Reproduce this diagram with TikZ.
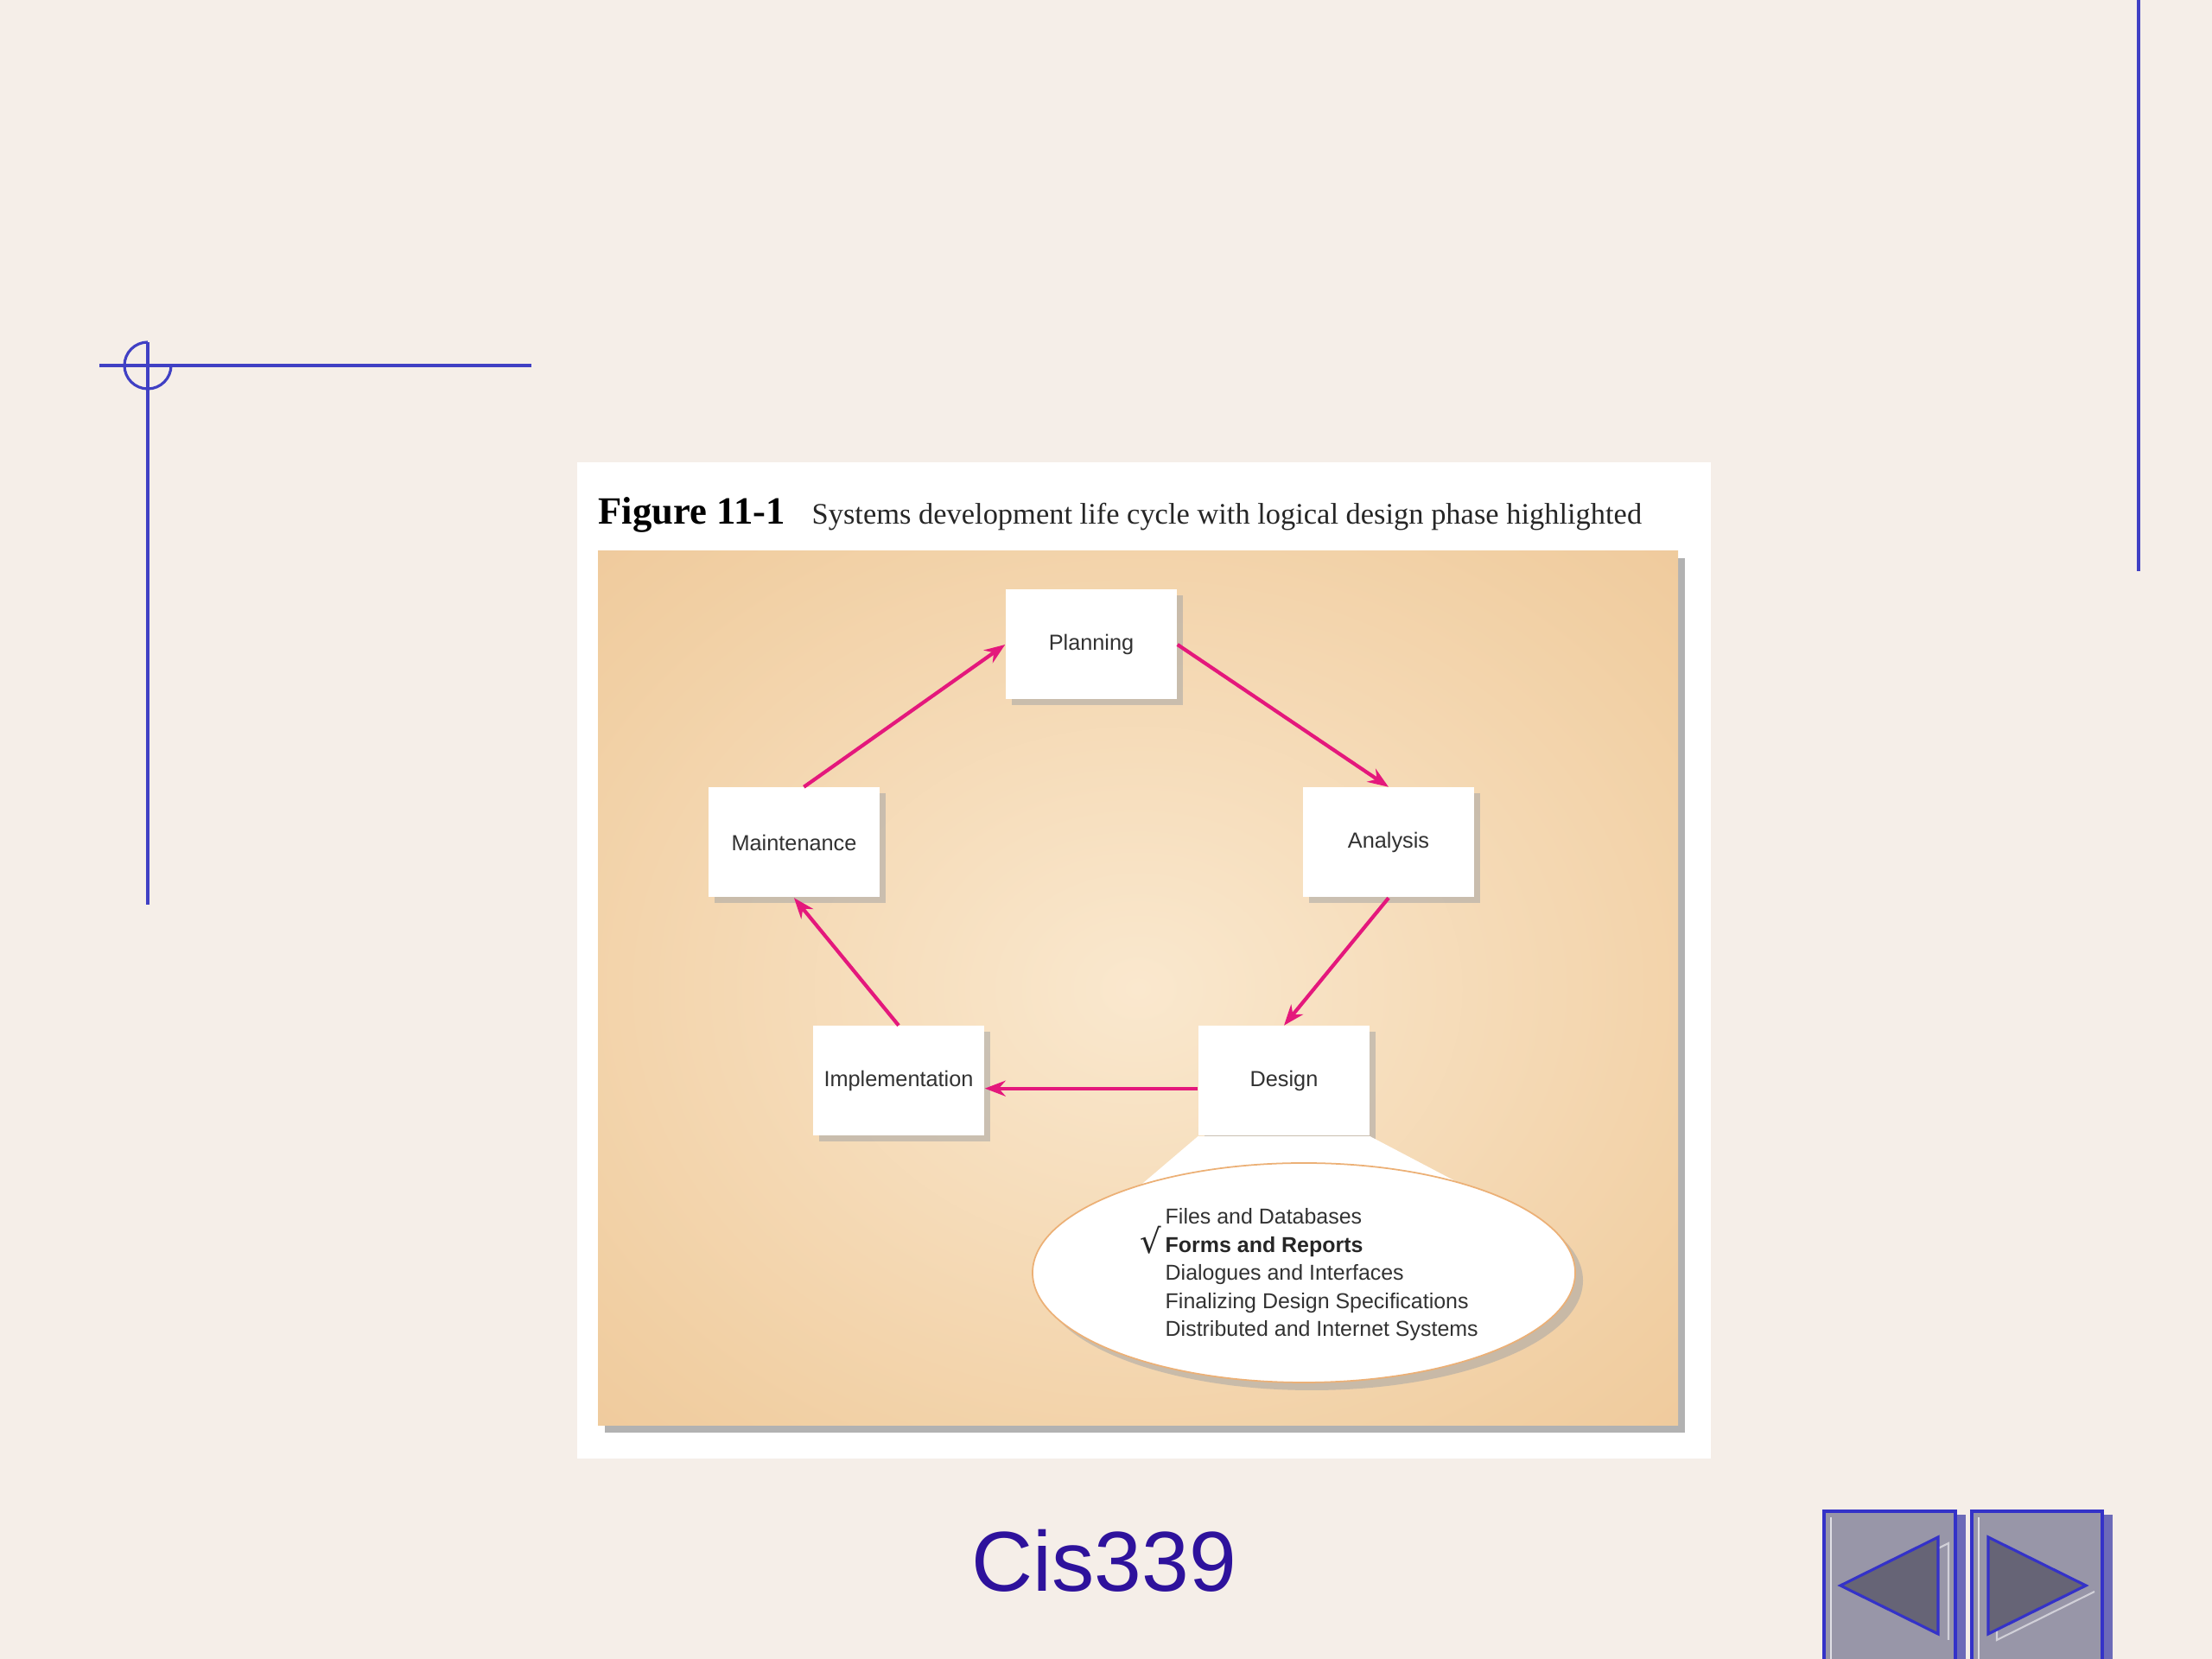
\documentclass[tikz,border=0pt]{standalone}
\usepackage{fontspec}
\setmainfont{Liberation Serif}
\newfontfamily\helv{Liberation Sans}
\newfontfamily\dejavu{DejaVu Sans}
\usepackage{tikz}
\usetikzlibrary{positioning,arrows.meta,shadows,shapes.geometric}

\definecolor{slidebg}{RGB}{245,238,232}
\definecolor{rulerblue}{RGB}{64,64,196}
\definecolor{pinkarrow}{RGB}{228,24,124}
\definecolor{tanin}{RGB}{250,232,206}
\definecolor{tanmid}{RGB}{241,207,163}
\definecolor{tanedge}{RGB}{234,189,139}
\definecolor{tanout}{RGB}{228,177,124}
\definecolor{rimorange}{RGB}{236,176,118}
\definecolor{navfill}{RGB}{152,150,168}
\definecolor{navdark}{RGB}{102,100,118}
\definecolor{navshade}{RGB}{108,106,184}
\definecolor{navblue}{RGB}{52,50,200}
\definecolor{cisblue}{RGB}{46,18,156}
\definecolor{labelgray}{RGB}{50,50,50}
\pgfdeclareradialshading{tanglow}{\pgfpoint{0bp}{0bp}}{color(0bp)=(tanin); color(30bp)=(tanmid); color(52bp)=(tanedge); color(71bp)=(tanout)}

\begin{document}
\begin{tikzpicture}[node distance=2cm, on grid, >={Stealth[length=0.24cm,width=0.18cm]}]
    \tikzstyle{phase}=[fill=white, minimum width=1.98cm, minimum height=1.27cm, inner sep=0pt,
        font=\helv\fontsize{7.2}{8}\selectfont, text=labelgray,
        drop shadow={shadow xshift=0.07cm, shadow yshift=-0.07cm, fill=black!35, opacity=0.55}]
    \tikzstyle{cycle}=[->, pinkarrow, line width=1.2pt]
    \tikzstyle{topic}=[anchor=base west, inner sep=0pt, font=\helv\fontsize{7.1}{8}\selectfont, text=labelgray]
    \tikzstyle{ruler}=[rulerblue, line width=0.9pt]

    \useasboundingbox (0,0) rectangle (25.6,19.2);
    \clip (0,0) rectangle (25.6,19.2);
    \fill[slidebg] (0,0) rectangle (25.6,19.2);

    % slide rulers
    \draw[ruler] (1.15,14.97) -- (6.15,14.97);
    \draw[ruler] (1.71,15.24) -- (1.71,8.73);
    \draw[ruler] (1.71,15.24) arc[start angle=90, end angle=360, radius=0.27];
    \draw[ruler] (24.75,19.2) -- (24.75,12.59);

    % figure panel
    \fill[white] (6.68,13.85) rectangle (19.80,2.32);
    \fill[black!30] (7.00,12.74) rectangle (19.50,2.62);
    \shade[shading=tanglow] (6.92,12.82) rectangle (19.42,2.70);

    \node[anchor=base west, inner sep=0pt, font=\fontsize{12.7}{14}\selectfont\bfseries] (figno) at (6.92,13.13) {Figure 11-1};
    \node[anchor=base west, inner sep=0pt, font=\fontsize{9.8}{11}\selectfont, text=black!85] (figcap) at (9.39,13.13)
        {Systems development life cycle with logical design phase highlighted};

    \node[phase] (plan)  at (12.63,11.74)                      {Planning};
    \node[phase] (anal)  [below right = 2.29cm and 3.44cm of plan] {Analysis};
    \node[phase] (desg)  [below left = 2.76cm and 1.21cm of anal]  {Design};
    \node[phase] (impl)  [left = 4.46cm of desg]                   {Implementation};
    \node[phase] (maint) [above left = 2.76cm and 1.21cm of impl]  {Maintenance};

    \draw[cycle] (maint.80) -- (plan.west);
    \draw[cycle] (plan.east) -- (anal.north);
    \draw[cycle] (anal.south) -- (desg.north);
    \draw[cycle] (desg.185) -- (desg.185 -| impl.east);
    \draw[cycle] (impl.north) -- (maint.south);

    % design phase close-up
    \fill[white] (desg.south west) -- (13.22,5.50) -- (16.90,5.50) -- (desg.south east) -- cycle;
    \node[ellipse, fill=white, draw=rimorange, line width=0.5pt, minimum width=6.28cm, minimum height=2.54cm, inner sep=0pt,
        drop shadow={shadow xshift=0.09cm, shadow yshift=-0.09cm, fill=black!35, opacity=0.55}] (topics) at (15.09,4.47) {};

    \node[topic]                                                          (files) at (13.48,5.030) {Files and Databases};
    \node[topic, font=\helv\bfseries\fontsize{7.1}{8}\selectfont, text=black!85] (forms) at (13.48,4.705) {Forms and Reports};
    \node[topic]                                                          (dialog) at (13.48,4.380) {Dialogues and Interfaces};
    \node[topic]                                                          (final) at (13.48,4.055) {Finalizing Design Specifications};
    \node[topic]                                                          (distr) at (13.48,3.730) {Distributed and Internet Systems};
    \node[anchor=base east, inner sep=0pt, font=\dejavu\fontsize{11}{12}\selectfont, text=black!85] (tick) at (13.45,4.69) {√};

    \node[anchor=base, inner sep=0pt, font=\helv\fontsize{28}{30}\selectfont, text=cisblue] (course) at (12.78,0.78) {Cis339};

    % navigation buttons
    \fill[navshade] (22.63,-0.1) rectangle (22.75,1.67);
    \filldraw[fill=navfill, draw=navblue, line width=0.9pt] (21.11,-0.1) rectangle (22.63,1.71);
    \draw[white!70!navfill, line width=0.7pt] (21.19,-0.1) -- (21.19,1.64);
    \draw[white!55!navfill, line width=0.6pt] (21.42,0.78) -- (22.55,1.34) -- (22.55,0.22);
    \filldraw[fill=navdark, draw=navblue, line width=0.9pt] (21.30,0.85) -- (22.43,1.41) -- (22.43,0.29) -- cycle;

    \fill[navshade] (24.33,-0.1) rectangle (24.45,1.67);
    \filldraw[fill=navfill, draw=navblue, line width=0.9pt] (22.82,-0.1) rectangle (24.33,1.71);
    \draw[white!70!navfill, line width=0.7pt] (22.90,-0.1) -- (22.90,1.64);
    \draw[white!55!navfill, line width=0.6pt] (23.11,1.34) -- (23.11,0.22) -- (24.24,0.78);
    \filldraw[fill=navdark, draw=navblue, line width=0.9pt] (23.01,1.41) -- (23.01,0.29) -- (24.14,0.85) -- cycle;
\end{tikzpicture}
\end{document}
